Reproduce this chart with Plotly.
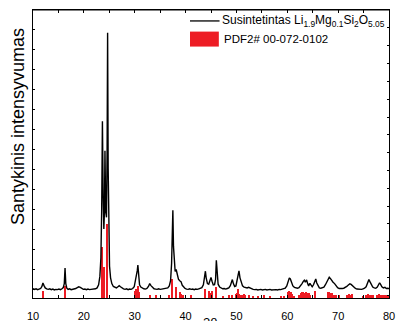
import plotly.graph_objects as go

two_theta = [10.0,10.3,10.6,10.9,11.2,11.5,11.75,11.95,12.15,12.4,12.7,13.0,13.3,13.6,13.9,14.2,14.5,14.8,15.1,15.4,15.7,15.95,16.15,16.3,16.45,16.65,16.9,17.2,17.5,17.8,18.1,18.4,18.7,19.0,19.3,19.6,19.9,20.2,20.5,20.8,21.1,21.4,21.7,22.0,22.3,22.6,22.9,23.15,23.35,23.5,23.65,23.8,23.93,24.05,24.15,24.3,24.45,24.57,24.67,24.78,24.9,25.05,25.25,25.5,25.8,26.1,26.4,26.7,26.95,27.2,27.5,27.8,28.1,28.4,28.7,29.0,29.3,29.6,29.9,30.15,30.35,30.5,30.62,30.78,30.95,31.2,31.5,31.8,32.1,32.4,32.7,32.95,33.2,33.5,33.8,34.1,34.4,34.7,35.0,35.3,35.6,35.9,36.2,36.5,36.8,37.05,37.25,37.4,37.5,37.62,37.78,37.95,38.15,38.35,38.6,38.85,39.1,39.35,39.6,39.9,40.2,40.5,40.8,41.1,41.4,41.7,42.0,42.3,42.6,42.9,43.2,43.5,43.75,43.9,44.05,44.3,44.55,44.8,45.0,45.2,45.45,45.7,45.9,46.05,46.2,46.4,46.7,47.0,47.3,47.6,47.9,48.2,48.5,48.8,49.05,49.2,49.4,49.65,49.9,50.15,50.35,50.5,50.7,50.95,51.2,51.5,51.8,52.1,52.4,52.7,53.0,53.3,53.6,53.9,54.2,54.5,54.8,55.1,55.4,55.7,56.0,56.3,56.6,56.9,57.2,57.5,57.8,58.1,58.4,58.7,59.0,59.3,59.6,59.9,60.15,60.4,60.6,60.85,61.1,61.4,61.7,62.0,62.3,62.6,62.9,63.15,63.35,63.55,63.8,64.0,64.2,64.45,64.65,64.9,65.15,65.4,65.6,65.8,66.05,66.3,66.6,66.9,67.2,67.5,67.8,68.05,68.25,68.5,68.75,69.0,69.3,69.6,69.9,70.2,70.5,70.8,71.1,71.4,71.7,72.0,72.3,72.55,72.8,73.1,73.4,73.7,74.0,74.3,74.6,74.9,75.2,75.5,75.8,76.05,76.3,76.55,76.8,77.1,77.4,77.7,77.95,78.15,78.35,78.6,78.9,79.2,79.5,79.8,80.0]
intensity = [3.3,3.0,3.2,2.9,3.1,3.3,4.0,5.2,4.4,3.5,3.2,3.0,3.2,2.9,3.1,2.8,3.0,2.9,3.1,2.9,3.2,3.6,5.0,10.4,5.0,3.4,3.0,3.2,2.9,3.0,3.2,3.3,3.6,3.9,3.7,3.3,3.0,3.1,2.9,3.1,2.9,3.0,3.1,3.0,3.2,3.5,4.6,7.5,14,30,61.4,35,24,30,51.1,30,28,50,92.1,45,20,11,7,5,4.0,3.6,3.5,3.9,4.3,3.9,3.4,3.2,3.0,3.2,2.9,3.1,3.0,3.3,3.9,5.8,7.5,9.5,11.4,7.0,4.6,3.8,3.4,3.2,3.1,3.3,4.0,5.0,4.3,3.6,3.2,3.1,3.0,3.2,3.0,3.1,3.2,3.1,3.3,3.5,4.2,6.0,12,23,30.5,18,11,9.2,9.9,8.0,6.5,6.0,5.7,4.4,3.7,3.3,3.1,3.0,3.2,3.0,3.1,2.9,3.1,3.0,3.2,3.3,3.6,4.6,7.0,9.3,7.0,5.0,4.8,6.2,7.1,5.8,4.5,4.6,6.5,13.1,8.0,4.8,3.8,3.4,3.2,3.3,3.1,3.3,3.5,4.3,5.8,6.4,5.0,4.0,4.2,6.2,8.5,9.4,7.0,5.0,4.2,3.8,3.6,3.5,3.7,3.4,3.1,3.0,2.9,3.0,2.8,2.9,3.0,2.8,2.9,3.0,2.8,2.9,3.0,2.8,2.9,3.0,2.9,2.8,3.0,2.9,3.0,3.1,3.4,4.2,5.6,7.0,6.6,5.2,4.2,3.7,3.5,3.4,3.6,4.2,5.0,5.8,6.2,5.5,6.3,5.0,4.2,5.1,4.5,3.9,4.6,5.8,6.6,5.2,4.0,3.5,3.4,3.5,3.8,4.6,5.8,6.9,7.2,6.7,6.0,5.5,5.0,4.2,3.6,3.3,3.2,3.3,3.4,3.6,4.0,4.5,4.9,4.7,4.2,3.6,3.3,3.1,3.0,3.1,3.0,3.2,3.4,3.9,5.0,6.4,5.5,4.5,3.8,3.5,3.4,3.8,4.6,5.3,4.7,3.9,3.5,3.7,3.3,3.4,3.2]

# --- Reference pattern PDF2# 00-072-0102 ---
ref_pos = [11.9,16.25,23.55,24.05,24.6,30.05,30.35,30.65,30.9,33.0,34.2,36.7,37.4,38.05,38.9,39.2,39.5,41.0,43.9,44.6,44.9,45.2,46.0,47.3,48.6,49.2,49.9,50.2,50.35,50.6,50.8,51.2,51.5,51.8,52.5,53.3,54.2,55.4,56.7,58.7,59.4,60.2,60.45,60.7,60.95,61.4,62.3,62.7,62.95,63.2,63.45,63.65,63.95,64.2,64.5,65.4,68.0,68.3,68.6,68.9,69.3,69.6,70.2,71.8,72.1,72.4,72.7,74.9,75.6,75.9,76.2,76.5,76.9,77.6,78.0,78.4,78.9,79.3,79.6,79.9]
ref_int = [2.3,4.3,17.7,10.8,25.6,2.4,3.3,4.0,2.2,0.9,0.9,1.0,6.7,3.8,2.2,1.4,1.0,1.0,3.0,2.4,1.6,2.6,3.9,0.8,0.9,1.2,1.3,1.8,3.0,1.5,1.0,1.1,1.3,0.9,1.2,0.8,0.8,1.0,0.8,0.8,0.8,2.0,2.3,2.2,1.4,0.8,1.0,1.6,2.0,2.2,1.8,2.1,1.6,1.8,1.2,2.3,2.1,2.0,1.6,1.7,1.0,1.2,0.9,1.1,1.4,1.2,1.3,0.8,1.1,1.3,1.2,1.1,1.0,1.0,1.3,1.1,0.9,1.1,1.0,0.8]

x_tickvals = [10,15,20,25,30,35,40,45,50,55,60,65,70,75,80]
x_ticktext = ["10","","20","","30","","40","","50","","60","","70","","80"]

series1_name = "Susintetintas Li<sub>1.9</sub>Mg<sub>0.1</sub>Si<sub>2</sub>O<sub>5.05</sub>"
series2_name = "PDF2# 00-072-0102"
x_title = "2θ"
y_title = "Santykinis intensyvumas"

RED = "rgb(237,28,36)"
FONT = "Liberation Sans, Arial, Helvetica, sans-serif"
W, H = 399, 321
PX_L, PX_R, PX_T, PX_B = 33, 389, 10, 298   # plot-area frame in pixels

fig = go.Figure()
fig.add_trace(go.Scatter(x=two_theta, y=intensity, mode="lines",
                         line=dict(color="black", width=1.4), name=series1_name,
                         showlegend=False))
fig.add_trace(go.Bar(x=ref_pos, y=ref_int, width=0.25, marker=dict(color=RED, line=dict(width=0)),
                     name=series2_name, showlegend=False))
# invisible trace for right-side ticks
fig.add_trace(go.Scatter(x=[10], y=[0], yaxis="y2", mode="markers", marker=dict(opacity=0),
                         showlegend=False, hoverinfo="skip"))

xdom = [PX_L / W, PX_R / W]
ydom = [(H - PX_B) / H, (H - PX_T) / H]

fig.update_layout(
    width=W, height=H,
    margin=dict(l=0, r=0, t=0, b=0, pad=0, autoexpand=False),
    paper_bgcolor="white", plot_bgcolor="white",
    font=dict(family=FONT, size=11, color="black"),
    bargap=0,
    xaxis=dict(domain=xdom, range=[10, 80], tickvals=x_tickvals, ticktext=x_ticktext,
               ticks="inside", ticklen=3, tickcolor="black", showline=True, linecolor="black",
               linewidth=1, mirror="ticks", showgrid=False, zeroline=False, automargin=False,
               ticklabelstandoff=8, tickfont=dict(size=11, color="black")),
    yaxis=dict(domain=ydom, range=[0, 100], tick0=3.0, dtick=6.95, ticks="inside", ticklen=2,
               tickcolor="black", showticklabels=False, showline=True, linecolor="black",
               linewidth=1.2, showgrid=False, zeroline=False, automargin=False),
    yaxis2=dict(domain=ydom, range=[0, 100], overlaying="y", side="right", tick0=0.94, dtick=6.19,
                ticks="inside", ticklen=2, tickcolor="black", showticklabels=False,
                showline=True, linecolor="black", linewidth=1, showgrid=False, zeroline=False,
                automargin=False),
)

# top frame line
fig.add_shape(type="line", xref="x domain", yref="y domain", x0=0, x1=1, y0=1, y1=1,
              line=dict(color="black", width=1))

# manual legend
fig.add_shape(type="line", xref="x domain", yref="y domain", x0=0.441, x1=0.524, y0=0.962, y1=0.962,
              line=dict(color="black", width=1.3))
fig.add_annotation(xref="x domain", yref="y domain", x=0.526, y=0.962, xanchor="left", yanchor="middle",
                   text=series1_name, showarrow=False, font=dict(size=12, color="black"))
fig.add_shape(type="rect", xref="x domain", yref="y domain", x0=0.441, x1=0.522, y0=0.873, y1=0.925,
              line=dict(width=0), fillcolor=RED)
fig.add_annotation(xref="x domain", yref="y domain", x=0.532, y=0.899, xanchor="left", yanchor="middle",
                   text=series2_name, showarrow=False, font=dict(size=11.5, color="black"))

# axis titles
fig.add_annotation(xref="x domain", yref="y domain", x=0.498, y=-0.052, xanchor="center", yanchor="top",
                   text=x_title, showarrow=False, font=dict(size=13, color="black"))
fig.add_annotation(xref="x domain", yref="y domain", x=-0.044, y=0.595, xanchor="center", yanchor="middle",
                   text=y_title, textangle=-90, showarrow=False, font=dict(size=18, color="black"))

fig.write_html("out.html")
